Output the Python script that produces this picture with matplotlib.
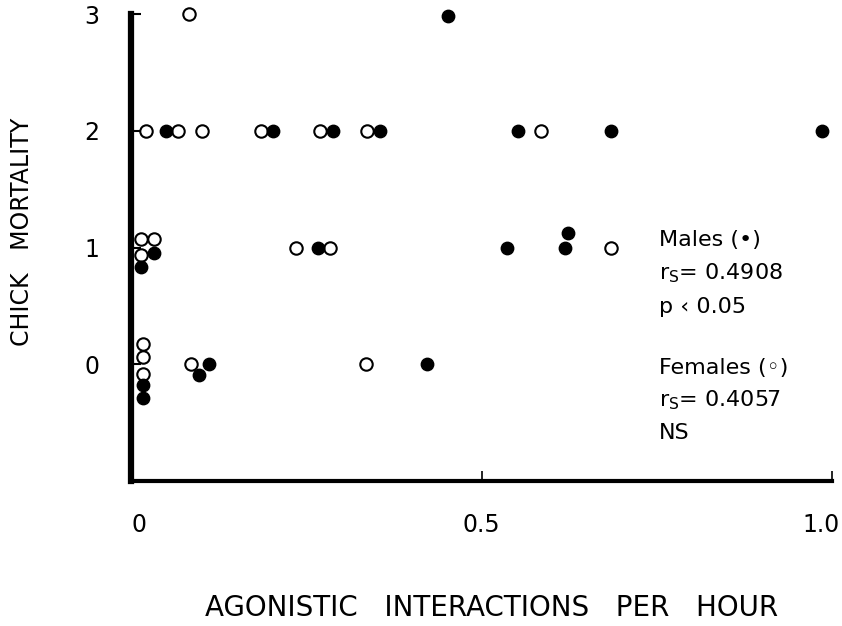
import matplotlib
matplotlib.use("Agg")
import matplotlib.pyplot as plt
import matplotlib.transforms as mtransforms

# Data
male_x = [0.452, 0.050, 0.203, 0.288, 0.355, 0.552, 0.685, 0.986,
          0.033, 0.014, 0.267, 0.536, 0.623, 0.619,
          0.017, 0.017, 0.111, 0.097, 0.422]
male_y = [2.98, 2.0, 2.0, 2.0, 2.0, 2.0, 2.0, 2.0,
          0.95, 0.83, 1.0, 1.0, 1.12, 1.0,
          -0.18, -0.29, 0.0, -0.09, 0.0]
female_x = [0.083, 0.021, 0.067, 0.101, 0.185, 0.270, 0.337, 0.585,
            0.014, 0.033, 0.014, 0.235, 0.284, 0.685,
            0.017, 0.017, 0.017, 0.086, 0.335]
female_y = [3.0, 2.0, 2.0, 2.0, 2.0, 2.0, 2.0, 2.0,
            1.077, 1.077, 0.94, 1.0, 1.0, 1.0,
            0.17, 0.06, -0.08, 0.0, 0.0]
y_ticks = [0, 1, 2, 3]
y_ticklabels = ["0", "1", "2", "3"]
x_ticks = [0, 0.5, 1.0]
x_ticklabels = ["0", "0.5", "1.0"]

plt.rcParams['font.family'] = ['DejaVu Sans']

fig = plt.figure(figsize=(8.42, 6.26), dpi=100)
ax = fig.add_axes([131/842, (626-481)/626, 701/842, 467/626])
ax.set_xlim(0, 1.0)
ax.set_ylim(-1, 3)

ax.scatter(female_x, female_y, s=80, facecolors='white', edgecolors='black',
           linewidths=1.5, zorder=3, clip_on=False)
ax.scatter(male_x, male_y, s=80, facecolors='black', edgecolors='black',
           linewidths=1.0, zorder=4, clip_on=False)

for s in ['top', 'right']:
    ax.spines[s].set_visible(False)
ax.spines['left'].set_linewidth(4.5)
ax.spines['bottom'].set_linewidth(3.0)
ax.spines['left'].set_bounds(-1, 3)

ax.set_yticks(y_ticks)
ax.set_yticklabels(y_ticklabels, fontsize=17)
ax.set_xticks(x_ticks)
ax.set_xticklabels(x_ticklabels, fontsize=17)
ax.tick_params(axis='y', direction='in', length=7, width=1.5, pad=23)
ax.tick_params(axis='x', direction='in', length=7, width=1.2, pad=23)

# small horizontal offsets of x tick labels, as in the reference
offsets = [8, 0, -11]
for lab, dx in zip(ax.get_xticklabels(), offsets):
    lab.set_transform(lab.get_transform() +
                      mtransforms.ScaledTranslation(dx/100, 0, fig.dpi_scale_trans))

fig.text(22/842, 1 - 232/626, "CHICK   MORTALITY", rotation=90, fontsize=17,
         ha='center', va='center')
fig.text(492/842, 1 - 608/626, "AGONISTIC   INTERACTIONS   PER   HOUR", fontsize=20,
         ha='center', va='center')

tx = 659/842
lines = [("Males (\u2022)", 240), (r"r$_\mathregular{S}$= 0.4908", 273),
         ("p \u2039 0.05", 307), ("Females (\u25e6)", 368),
         (r"r$_\mathregular{S}$= 0.4057", 400), ("NS", 433)]
for t, yp in lines:
    fig.text(tx, 1 - yp/626, t, fontsize=16, ha='left', va='center')

fig.savefig("out.png", dpi=100)
